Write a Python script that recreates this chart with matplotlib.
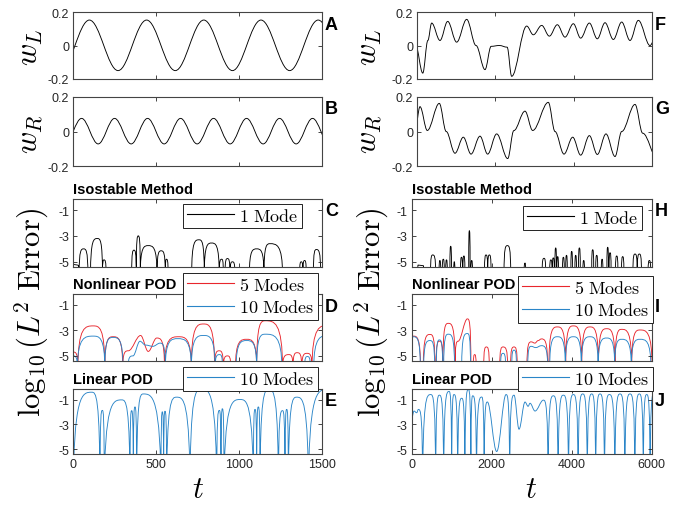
import matplotlib
matplotlib.use("Agg")
import matplotlib.pyplot as plt
from matplotlib.path import Path
from matplotlib.patches import PathPatch
from matplotlib.lines import Line2D

plt.rcParams['font.family'] = ['Liberation Sans', 'DejaVu Sans']
plt.rcParams['mathtext.fontset'] = 'cm'
plt.rcParams['axes.unicode_minus'] = False

# ---- data: knots (t, value); values below -5.5 mark a drop to zero error
a_t = [-76, 97, 270, 442, 615, 787, 960, 1132, 1305, 1477, 1650]
a_w = [-0.15, 0.152, -0.15, 0.152, -0.15, 0.152, -0.15, 0.152, -0.15, 0.152, -0.15]

b_t = [-50, 50, 150, 249, 349, 448, 548, 647, 747, 846, 946, 1045, 1145, 1244, 1344, 1443, 1543]
b_w = [-0.072, 0.076, -0.072, 0.076, -0.072, 0.076, -0.072, 0.076, -0.072, 0.076, -0.072, 0.076,
       -0.072, 0.076, -0.072, 0.076, -0.072]

c_t = [0, 25, 35, 62, 88, 104, 145, 176, 185, 198, 352, 366, 380, 392, 404, 452, 505, 530, 555,
       562, 572, 714, 758, 790, 834, 880, 895, 905, 915, 930, 945, 960, 975, 1062, 1106, 1150,
       1186, 1262, 1365, 1375, 1385, 1395, 1405, 1448, 1466, 1492]
c_e = [-5.2, -5.25, -6, -4.0, -6, -6, -3.2, -6, -4.85, -6, -6, -4.1, -6, -3.0, -6, -3.75, -6,
       -4.15, -6, -4.8, -6, -6, -3.3, -6, -3.55, -6, -4.8, -6, -6, -4.75, -6, -5.0, -6, -6, -4.0,
       -6, -3.6, -6, -6, -5.0, -6, -4.9, -6, -6, -4.05, -6]

d5_t = [0, 28, 120, 190, 240, 298, 332, 406, 452, 503, 550, 635, 712, 786, 852, 880, 905, 930,
        950, 978, 1046, 1106, 1158, 1262, 1300, 1325, 1350, 1378, 1410, 1440, 1540]
d5_e = [-4.7, -6, -2.65, -6, -3.5, -6, -4.6, -3.4, -4.65, -3.6, -6, -3.5, -6, -2.5, -6, -4.6, -6,
        -5.0, -6, -6, -3.7, -6, -2.25, -6, -4.9, -6, -4.75, -6, -4.8, -6, -2.6]
d10_t = [0, 25, 120, 190, 240, 300, 330, 360, 402, 435, 480, 523, 555, 630, 712, 786, 855, 882,
         900, 982, 1046, 1106, 1158, 1258, 1395, 1412, 1430, 1450, 1540]
d10_e = [-5.0, -6, -3.45, -6, -3.55, -6, -6, -5.0, -3.85, -4.15, -4.25, -4.0, -6, -3.65, -6,
         -3.4, -6, -4.9, -6, -6, -3.8, -6, -3.3, -6, -6, -5.05, -6, -6, -3.4]

e_t = [0, 111, 161, 175, 187, 292, 342, 352, 362, 372, 382, 422, 529, 537, 545, 553, 563, 623,
       704, 774, 865, 881, 891, 899, 909, 1006, 1086, 1096, 1106, 1116, 1126, 1180, 1237, 1262,
       1277, 1287, 1297, 1347, 1418, 1530]
e_e = [-9, -0.41, -9, -1.88, -9, -1.03, -9, -1.9, -9, -1.6, -9, -0.55, -9, -2.0, -9, -1.95, -9,
       -0.81, -9, -0.15, -9, -1.88, -9, -1.75, -9, -1.0, -9, -1.8, -9, -1.6, -9, -0.2, -9, -1.9,
       -9, -1.8, -9, -0.81, -9, -0.2]

f_t = [-40, 140, 270, 368, 581, 778, 1008, 1264, 1503, 1733, 1890, 2100, 2300, 2416, 2800, 2970,
       3184, 3380, 3584, 3781, 3994, 4182, 4404, 4608, 4805, 5018, 5232, 5445, 5658, 5957, 6100]
f_w = [0.0, -0.165, 0.03, 0.134, 0.03, 0.144, 0.02, 0.156, 0.0, -0.144, -0.005, 0.0, -0.01,
       -0.184, 0.116, 0.064, 0.12, 0.056, 0.124, 0.05, 0.13, 0.044, 0.134, 0.04, 0.136, 0.036,
       0.14, 0.03, 0.15, 0.0, 0.05]

g_t = [-60, 69, 256, 563, 740, 965, 1178, 1375, 1605, 1801, 2032, 2314, 2470, 2757, 2954, 3354,
       3525, 3755, 3978, 4182, 4404, 4608, 4830, 5061, 5232, 5573, 5770, 6150]
g_w = [0.0, 0.144, 0.006, 0.163, 0.0, -0.126, -0.033, -0.131, -0.027, -0.131, -0.014, -0.157,
       0.005, 0.118, 0.006, 0.169, 0.0, -0.131, -0.033, -0.137, -0.024, -0.133, -0.014, -0.145,
       0.0, 0.157, -0.01, -0.16]

h_t = [0, 150, 160, 290, 300, 470, 525, 600, 685, 705, 725, 765, 790, 815, 850, 870, 890, 955,
       975, 995, 1050, 1065, 1080, 1220, 1245, 1270, 1280, 1305, 1330, 1425, 1442, 1460, 1480,
       1500, 1520, 1820, 1858, 1900, 1942, 1985, 2308, 2392, 2475, 2810, 2833, 2850, 3260, 3308,
       3350, 3450, 3480, 3510, 3515, 3540, 3565, 3580, 3600, 3620, 3630, 3650, 3670, 3770, 3792,
       3815, 3850, 3870, 3890, 3980, 4000, 4020, 4080, 4100, 4120, 4170, 4192, 4215, 4280, 4300,
       4320, 4500, 4525, 4550, 4600, 4625, 4650, 4740, 4760, 4780, 4880, 4900, 4920, 4935, 4958,
       4985, 5095, 5125, 5155, 5245, 5275, 5305, 5530, 5583, 5638, 5692, 5745, 5910, 5942, 5975]
h_e = [-6, -6, -5.25, -5.3, -6, -6, -4.47, -6, -6, -4.9, -6, -6, -4.8, -6, -6, -4.85, -6, -6,
       -3.8, -6, -6, -5.0, -6, -6, -4.65, -6, -6, -4.55, -6, -6, -2.6, -6, -6, -4.9, -6, -6,
       -4.47, -6, -4.47, -6, -6, -3.75, -6, -6, -5.1, -6, -6, -4.73, -6, -6, -4.85, -6, -6, -4.7,
       -6, -6, -3.93, -6, -6, -4.6, -6, -6, -4.65, -6, -6, -4.5, -6, -6, -4.2, -6, -6, -4.5, -6,
       -6, -3.93, -6, -6, -4.9, -6, -6, -4.07, -6, -6, -4.5, -6, -6, -4.8, -6, -6, -3.88, -6, -6,
       -4.3, -6, -6, -4.55, -6, -6, -4.6, -6, -6, -4.4, -6, -4.4, -6, -6, -4.9, -6]

i5_t = [0, 42, 220, 290, 458, 583, 610, 692, 780, 915, 1085, 1160, 1392, 1480, 1540, 1575, 1610,
        1800, 1867, 1940, 2200, 2283, 2400, 2470, 2558, 2640, 2880, 2990, 3080, 3160, 3242, 3400,
        3430, 3642, 3850, 4042, 4250, 4458, 4667, 4875, 5083, 5250, 5500, 5708, 6010]
i5_e = [-3.55, -3.45, -6, -6, -3.32, -6, -6, -3.85, -6, -2.45, -6, -3.85, -2.1, -6, -6, -4.9, -6,
        -6, -4.3, -6, -6, -4.3, -6, -6, -4.3, -6, -6, -3.9, -4.0, -3.8, -3.67, -6, -6, -2.73, -6,
        -2.65, -6, -2.73, -6, -2.87, -6, -2.92, -6, -2.97, -6]
i10_t = [0, 42, 215, 300, 458, 575, 615, 692, 775, 800, 915, 1070, 1250, 1392, 1470, 2220, 2283,
         2350, 2500, 2558, 2620, 2900, 2990, 3100, 3242, 3400, 3450, 3642, 3840, 4042, 4240,
         4458, 4660, 4875, 5075, 5250, 5490, 5708, 5980]
i10_e = [-3.6, -3.5, -6, -6, -3.8, -6, -6, -3.75, -6, -6, -3.3, -6, -6, -3.25, -6, -6, -4.8, -6,
         -6, -4.55, -6, -6, -4.25, -4.35, -4.2, -6, -6, -3.5, -6, -3.5, -6, -3.5, -6, -3.6, -6,
         -3.7, -6, -3.7, -6]

j_t = [0, 58, 125, 167, 275, 474, 600, 692, 800, 933, 1000, 1058, 1150, 1250, 1330, 1416, 1480,
       1525, 1620, 1750, 1810, 1892, 2125, 2358, 2450, 2560, 2683, 2833, 2910, 2958, 3083, 3292,
       3410, 3542, 3660, 3792, 3920, 4042, 4160, 4275, 4390, 4500, 4600, 4708, 4820, 4942, 5080,
       5208, 5330, 5458, 5580, 5692, 5790, 5875, 5960, 6060]
j_e = [-2.5, -1.93, -2.07, -1.8, -9, -0.6, -9, -0.65, -9, -0.35, -9, -0.6, -9, -0.9, -9, -0.2,
       -9, -0.7, -9, -0.8, -9, -1.2, -5.2, -0.6, -9, -0.65, -3.4, -1.2, -1.55, -1.3, -1.93, -1.05,
       -9, -0.7, -9, -0.65, -9, -0.6, -9, -0.55, -9, -0.55, -9, -0.55, -9, -0.6, -9, -0.55, -9,
       -0.55, -9, -0.55, -9, -0.6, -9, -0.5]

RED = '#e8262d'
BLUE = '#2a85c8'
FLOOR = -5.5


def curve(ax, ts, ys, color, floor=None, lw=0.65):
    # smooth path through the knots; knots below the floor are zero-error dips
    verts = [(ts[0], ys[0])]
    codes = [Path.MOVETO]
    for x0, y0, x1, y1 in zip(ts[:-1], ys[:-1], ts[1:], ys[1:]):
        dx = x1 - x0
        d0 = floor is not None and y0 < floor
        d1 = floor is not None and y1 < floor
        if d0 and d1:
            c0, c1 = (x0, y0), (x1, y1)
        elif d1:
            c0, c1 = (x0 + 0.5 * dx, y0), (x1, y0)
        elif d0:
            c0, c1 = (x0, y1), (x1 - 0.5 * dx, y1)
        else:
            c0, c1 = (x0 + 0.36 * dx, y0), (x1 - 0.36 * dx, y1)
        verts += [c0, c1, (x1, y1)]
        codes += [Path.CURVE4] * 3
    ax.add_patch(PathPatch(Path(verts, codes), fill=False, ec=color, lw=lw))


W, H = 687, 506
fig = plt.figure(figsize=(W / 100, H / 100), dpi=100)


def add_ax(x0, x1, y0, y1):
    return fig.add_axes([x0 / W, 1 - y1 / H, (x1 - x0) / W, (y1 - y0) / H])


def style(ax, xmax, xticks, err, show_x):
    ax.set_xlim(0, xmax)
    ax.set_xticks(xticks)
    if err:
        ax.set_ylim(-5.4, -0.15)
        ax.set_yticks([-5, -3, -1])
    else:
        ax.set_ylim(-0.2, 0.2)
        ax.set_yticks([-0.2, 0, 0.2])
        ax.set_yticklabels(['-0.2', '0', '0.2'])
    if not show_x:
        ax.set_xticklabels([])
    ax.tick_params(direction='in', top=True, right=True, length=3, width=0.6,
                   labelsize=9, colors='#262626', pad=3)
    for s in ax.spines.values():
        s.set_linewidth(0.8)
        s.set_color('#444444')


def letter(x, y, s):
    fig.text(x / W, 1 - y / H, s, fontsize=13, fontweight='bold', ha='left', va='center')


def title(ax, s):
    ax.text(0.0, 1.05, s, transform=ax.transAxes, fontsize=10.5, fontweight='bold',
            ha='left', va='bottom')


def legend(ax, lines, labels, xr, yt):
    ax.legend(lines, labels, loc='upper right', bbox_to_anchor=(xr / W, 1 - yt / H),
              bbox_transform=fig.transFigure, borderaxespad=0, fontsize=13,
              handlelength=2.6, handletextpad=0.3, borderpad=0.2, labelspacing=0.3,
              fancybox=False, framealpha=1, edgecolor='#222222').get_frame().set_linewidth(0.7)


rows = [(13, 80), (98, 167), (200, 268), (295, 362), (390, 455)]
lab1 = r'$\mathrm{1\ Mode}$'
lab5 = r'$\mathrm{5\ Modes}$'
lab10 = r'$\mathrm{10\ Modes}$'
k = Line2D([], [], color='black', lw=0.8)
r = Line2D([], [], color=RED, lw=0.8)
b = Line2D([], [], color=BLUE, lw=0.8)

# ---- left column
L0, L1 = 73.3, 322
axA = add_ax(L0, L1, *rows[0])
curve(axA, a_t, a_w, 'black')
style(axA, 1500, [0, 500, 1000, 1500], False, False)
axB = add_ax(L0, L1, *rows[1])
curve(axB, b_t, b_w, 'black')
style(axB, 1500, [0, 500, 1000, 1500], False, False)
axC = add_ax(L0, L1, *rows[2])
curve(axC, c_t, c_e, 'black', FLOOR)
style(axC, 1500, [0, 500, 1000, 1500], True, False)
title(axC, 'Isostable Method')
legend(axC, [k], [lab1], 302, 205)
axD = add_ax(L0, L1, *rows[3])
curve(axD, d5_t, d5_e, RED, FLOOR)
curve(axD, d10_t, d10_e, BLUE, FLOOR)
style(axD, 1500, [0, 500, 1000, 1500], True, False)
title(axD, 'Nonlinear POD')
legend(axD, [r, b], [lab5, lab10], 318, 274)
axE = add_ax(L0, L1, *rows[4])
curve(axE, e_t, e_e, BLUE, FLOOR)
style(axE, 1500, [0, 500, 1000, 1500], True, True)
title(axE, 'Linear POD')
legend(axE, [b], [lab10], 318, 368)

# ---- right column
R0, R1, S0 = 417.3, 651.7, 411.7
axF = add_ax(R0, R1, *rows[0])
curve(axF, f_t, f_w, 'black')
style(axF, 6000, [0, 2000, 4000, 6000], False, False)
axG = add_ax(R0, R1, *rows[1])
curve(axG, g_t, g_w, 'black')
style(axG, 6000, [0, 2000, 4000, 6000], False, False)
axH = add_ax(S0, R1, *rows[2])
curve(axH, h_t, h_e, 'black', FLOOR)
style(axH, 6000, [0, 2000, 4000, 6000], True, False)
title(axH, 'Isostable Method')
legend(axH, [k], [lab1], 642, 207)
axI = add_ax(S0, R1, *rows[3])
curve(axI, i5_t, i5_e, RED, FLOOR)
curve(axI, i10_t, i10_e, BLUE, FLOOR)
style(axI, 6000, [0, 2000, 4000, 6000], True, False)
title(axI, 'Nonlinear POD')
legend(axI, [r, b], [lab5, lab10], 653, 277)
axJ = add_ax(S0, R1, *rows[4])
curve(axJ, j_t, j_e, BLUE, FLOOR)
style(axJ, 6000, [0, 2000, 4000, 6000], True, True)
title(axJ, 'Linear POD')
legend(axJ, [b], [lab10], 653, 368)

# ---- panel letters and axis labels
for s, x, (y0, y1) in zip('ABCDE', [325] * 5, rows):
    letter(x, y0 + 12, s)
for s, x, (y0, y1) in zip('FGHIJ', [655] * 5, rows):
    letter(x, y0 + 12, s)

for x in (30, 369):
    fig.text(x / W, 1 - 47 / H, r'$w_L$', fontsize=22, rotation=90, ha='center', va='center')
    fig.text(x / W, 1 - 134 / H, r'$w_R$', fontsize=22, rotation=90, ha='center', va='center')
for x in (32, 372):
    fig.text(x / W, 1 - 313 / H, r'$\log_{10}(L^2\ \mathrm{Error})$', fontsize=22,
             rotation=90, ha='center', va='center')
for x in (198, 531):
    fig.text(x / W, 1 - 490 / H, r'$t$', fontsize=22, ha='center', va='center')

fig.savefig('out.png', dpi=100)
